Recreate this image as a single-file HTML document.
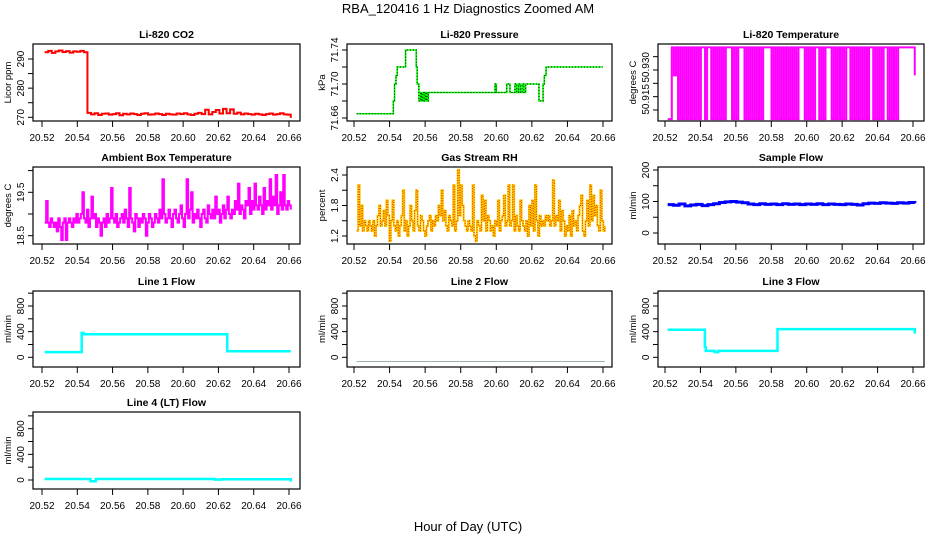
<!DOCTYPE html>
<html><head><meta charset="utf-8"><style>
html,body{margin:0;padding:0;background:#fff;}
svg{display:block;font-family:"Liberation Sans",sans-serif;}
</style></head><body>
<svg id="chart" width="936" height="540" viewBox="0 0 936 540">
<text x="468" y="13" text-anchor="middle" font-size="13">RBA_120416  1 Hz Diagnostics Zoomed AM</text>
<text x="468" y="531" text-anchor="middle" font-size="13">Hour of Day (UTC)</text>
</svg>
<script>
const xTickVals=[20.52,20.54,20.56,20.58,20.60,20.62,20.64,20.66];
const xTickLabels=["20.52","20.54","20.56","20.58","20.60","20.62","20.64","20.66"];
const tStart=20.5215, tEnd=20.661;
const co2Vals=[292.3,292.8,292.1,292.6,292.9,292.4,292.7,292.2,292.6,292.5,292.8,292.3,271.5,271.0,271.4,270.8,271.2,271.3,270.9,271.1,271.4,270.7,271.2,271.0,271.3,271.1,270.8,271.2,271.4,270.9,271.0,271.3,271.1,270.8,271.2,271.0,270.9,271.3,271.1,271.4,271.0,270.8,271.2,271.5,271.1,272.6,271.0,271.8,272.5,271.3,272.9,271.4,272.7,271.2,271.6,271.0,271.3,271.1,270.9,271.2,271.0,270.8,271.1,271.3,270.9,271.1,271.4,271.0,270.9,269.8];
const presTimes=[20.5215,20.5421,20.5428,20.5436,20.5443,20.549,20.555,20.5555,20.5565,20.5575,20.558,20.5587,20.5595,20.5603,20.561,20.5618,20.5627,20.5993,20.6,20.6059,20.6077,20.6105,20.6115,20.6125,20.6135,20.6145,20.6155,20.6165,20.6178,20.624,20.6263,20.627,20.628,20.629,20.6598];
const presVals=[71.665,71.68,71.70,71.71,71.72,71.74,71.72,71.70,71.68,71.69,71.68,71.69,71.68,71.69,71.68,71.69,71.69,71.70,71.69,71.70,71.69,71.70,71.69,71.70,71.69,71.70,71.69,71.70,71.70,71.68,71.70,71.71,71.72,71.72,71.72];
const H=50.9385, L=50.9116, M=50.928;
const tempVals=[L,L,H,M,H,L,H,L,H,L,H,L,H,L,H,L,H,H,L,H,H,L,H,L,H,L,H,L,H,H,H,L,H,L,H,H,H,L,H,L,H,L,H,L,H,L,H,H,H,H,L,H,L,H,L,H,L,H,L,H,L,H,L,H,H,H,L,H,L,H,L,H,H,L,H,L,H,H,H,L,H,L,H,L,H,L,H,H,L,H,L,H,L,H,L,H,L,H,H,L,H,L,H,L,H,H,L,H,L,H,L,H,H,H,H,H,H,H,H,M];
const ambVals=[18.8,19.3,18.8,18.7,18.9,18.8,18.7,18.8,18.6,18.9,18.7,18.4,18.8,18.9,18.4,18.8,18.9,18.8,18.7,18.9,18.8,19.0,18.8,18.9,19.0,19.5,18.9,18.8,19.1,18.7,18.9,19.4,18.9,19.0,18.7,18.9,18.8,18.5,18.8,18.9,18.7,19.0,18.8,18.9,19.6,18.9,18.8,19.0,18.7,18.8,18.9,19.0,18.8,19.1,18.9,18.7,19.6,18.9,18.8,18.6,19.0,18.9,18.7,18.9,18.8,19.0,18.9,18.5,18.8,19.0,18.9,18.7,18.8,19.0,18.9,18.8,19.1,18.9,19.8,19.0,18.8,18.9,19.1,18.9,18.7,19.0,19.1,18.9,18.8,19.0,19.2,18.9,18.7,19.0,19.8,18.9,19.1,19.5,18.8,19.0,18.9,19.1,18.9,18.7,19.0,19.1,18.9,18.8,19.2,19.0,18.9,19.1,18.9,19.4,19.0,19.1,18.8,19.0,19.2,18.9,19.1,19.4,19.0,18.9,19.1,19.0,19.3,19.1,19.7,19.0,19.2,19.1,18.9,19.3,19.2,19.6,19.0,19.3,19.1,19.7,19.2,19.1,19.4,19.2,19.0,19.6,19.1,19.3,19.2,19.8,19.1,19.4,19.2,19.9,19.0,19.2,19.5,19.1,19.9,19.2,19.1,19.3,19.2,19.1];
const rhVals=[1.3,2.2,1.4,1.8,1.3,1.5,1.4,1.3,1.5,1.4,1.3,1.5,1.2,1.4,1.6,1.8,1.4,1.5,1.7,1.4,1.9,1.6,1.1,1.5,1.9,1.4,1.3,1.5,1.2,1.4,1.6,2.1,1.3,1.5,1.2,1.4,1.8,1.5,1.3,1.7,2.1,1.4,1.3,1.6,1.5,1.3,1.2,1.4,1.5,1.6,1.3,1.5,1.4,1.6,1.5,1.8,1.6,2.1,1.5,1.7,1.4,1.3,1.6,1.5,1.4,2.2,1.3,1.5,2.5,1.6,2.2,1.8,1.5,1.4,1.3,1.5,1.4,1.3,2.2,1.2,1.1,1.5,1.4,1.3,2.0,1.5,1.9,1.3,1.6,1.5,1.3,1.4,1.2,1.5,1.4,1.9,1.3,1.5,1.6,2.0,1.4,1.5,2.2,1.4,1.5,2.2,1.3,1.6,1.4,1.3,1.9,1.5,1.4,1.3,1.5,1.2,1.8,1.4,1.9,1.3,2.2,1.5,1.2,1.6,1.4,1.5,1.4,1.6,1.5,1.6,1.4,1.5,2.3,1.4,1.6,1.5,1.9,1.3,1.7,1.5,1.2,1.4,1.3,1.6,1.2,1.7,1.4,1.5,1.3,1.6,1.8,2.0,1.3,1.2,1.5,1.9,1.4,2.2,1.5,2.0,1.6,1.8,1.4,1.3,2.1,1.5,1.3,1.4];
const sampVals=[90,88,92,86,89,91,87,90,93,97,99,100,98,96,92,90,93,91,92,90,93,91,92,90,92,91,93,90,92,91,90,92,91,89,93,95,94,96,95,94,96,95,97,94];
const l1Times=[20.5215,20.5425,20.5435,20.625,20.661];
const l1Vals=[80,380,360,95,95];
const l3Times=[20.5215,20.5425,20.543,20.548,20.550,20.5835,20.660,20.661];
const l3Vals=[430,160,100,80,100,440,440,370];
const l2Times=[20.5215,20.661];
const l2Vals=[-65,-65];
const l4Times=[20.5215,20.5475,20.5505,20.618,20.622,20.6605,20.661];
const l4Vals=[15,-20,15,5,12,12,-25];

const svg=document.getElementById('chart');
const NS='http://www.w3.org/2000/svg';
const cols=[{L:33,R:300,x0:42,x1:289},{L:347,R:612,x0:354,x1:603},{L:658,R:924,x0:665,x1:913}];
const rows=[{T:44,B:121},{T:167,B:244},{T:291,B:367},{T:412,B:489}];
function mk(tag,attrs,parent){const e=document.createElementNS(NS,tag);for(const k in attrs)e.setAttribute(k,attrs[k]);(parent||svg).appendChild(e);return e;}
function even(vals){const n=vals.length;return vals.map((v,i)=>[tStart+i*(tEnd-tStart)/(n-1),v]);}
function pairs(ts,vs){return ts.map((t,i)=>[t,vs[i]]);}
function panel(c,r,title,name,ylab,yTicks,yLabels,ref){
  const C=cols[c],R=rows[r];
  const g=mk('g',{});
  
  
  const xs=t=>C.x0+(t-20.52)/(0.14)*(C.x1-C.x0);
  const ys=v=>ref[1]+(v-ref[0])*(ref[3]-ref[1])/(ref[2]-ref[0]);
  const tt=mk('text',{x:(C.L+C.R)/2,y:R.T-6,'text-anchor':'middle','font-size':'10.5','font-weight':'bold'},g);
  tt.textContent=title;
  
  
  xTickVals.forEach((v,i)=>{const x=xs(v);
    mk('line',{x1:x,x2:x,y1:R.B,y2:R.B+6,stroke:'#000'},g);
    const t=mk('text',{x:x,y:R.B+20,'text-anchor':'middle','font-size':'10'},g);t.textContent=xTickLabels[i];
    
    });
  yTicks.forEach((v,i)=>{const y=ys(v);
    mk('line',{x1:C.L-5,x2:C.L,y1:y,y2:y,stroke:'#000'},g);
    if(yLabels[i]){const t=mk('text',{x:0,y:0,'text-anchor':'middle','font-size':'10',transform:`translate(${C.L-9},${y}) rotate(-90)`},g);t.textContent=yLabels[i];
      
      }});
  const yl=mk('text',{x:0,y:0,'text-anchor':'middle','font-size':'9.5',transform:`translate(${C.L-22},${(R.T+R.B)/2}) rotate(-90)`},g);
  yl.textContent=ylab;
  
  
  const cp=mk('clipPath',{id:'cp'+c+r},g);mk('rect',{x:C.L,y:R.T,width:C.R-C.L,height:R.B-R.T},cp);
  const pg=mk('g',{'clip-path':`url(#cp${c}${r})`},g);
  const box=mk('rect',{x:C.L,y:R.T,width:C.R-C.L,height:R.B-R.T,fill:'none',stroke:'#000','stroke-width':1.2},g);
  
  
  return {xs,ys,pg};
}
function line(p,pts,step,style,nm){
  let d='';pts.forEach(([t,v],i)=>{const x=p.xs(t),y=p.ys(v);
    if(i===0)d+=`M${x},${y}`;else if(step){d+=`H${x}V${y}`;}else d+=`L${x},${y}`;});
  const e=mk('path',Object.assign({d:d,fill:'none'},style),p.pg);
  
  
  return e;
}
let p;
p=panel(0,0,'Li-820 CO2','co2','Licor ppm',[270,275,280,285,290],['270','','280','','290'],[290,59,270,117.3]);
line(p,even(co2Vals),true,{stroke:'#ff0000','stroke-width':2},'co2-line');
p=panel(1,0,'Li-820 Pressure','pressure','kPa',[71.66,71.68,71.70,71.72,71.74],['71.66','','71.70','','71.74'],[71.74,50,71.66,118]);
line(p,pairs(presTimes,presVals),true,{stroke:'#00ff00','stroke-width':1.6},'pressure-line');
line(p,pairs(presTimes,presVals),true,{stroke:'#000','stroke-width':1,'stroke-dasharray':'1 2'},'pressure-dots');
p=panel(2,0,'Li-820 Temperature','li820-temp','degrees C',[50.935,50.930,50.925,50.920,50.915],['','','','',''],[50.915,110,50.930,70]);
['50.930','50.915'].forEach((s,i)=>{const vv=[50.931,50.919][i];const t=mk('text',{x:0,y:0,'text-anchor':'middle','font-size':'10',transform:`translate(${cols[2].L-9},${p.ys(vv)}) rotate(-90)`});t.textContent=s;
  
  });
line(p,even(tempVals),true,{stroke:'#ff00ff','stroke-width':2},'li820-temp-line');
p=panel(0,1,'Ambient Box Temperature','ambient-temp','degrees C',[18.5,19.0,19.5,20.0],['18.5','','19.5',''],[19.5,192.3,18.5,235.7]);
line(p,even(ambVals),true,{stroke:'#ff00ff','stroke-width':2},'ambient-temp-line');
p=panel(1,1,'Gas Stream RH','rh','percent',[1.2,1.5,1.8,2.1,2.4],['1.2','','1.8','','2.4'],[2.4,175,1.2,236]);
line(p,even(rhVals),true,{stroke:'#ffd000','stroke-width':2},'rh-line');
line(p,even(rhVals),true,{stroke:'#e03000','stroke-width':1,'stroke-dasharray':'1 1.5'},'rh-dots');
p=panel(2,1,'Sample Flow','sample-flow','ml/min',[0,50,100,150,200],['0','','100','','200'],[200,170,0,233]);
line(p,even(sampVals),true,{stroke:'#0000ff','stroke-width':3},'sample-flow-line');
const fT=[0,200,400,600,800,1000],fL=['0','','400','','800',''];
p=panel(0,2,'Line 1 Flow','line1-flow','ml/min',fT,fL,[0,357.3,800,306]);
line(p,pairs(l1Times,l1Vals),true,{stroke:'#00ffff','stroke-width':2.5},'line1-flow-line');
p=panel(1,2,'Line 2 Flow','line2-flow','ml/min',fT,fL,[0,357.3,800,306]);
line(p,pairs(l2Times,l2Vals),false,{stroke:'#a0b0b0','stroke-width':1},'line2-flow-line');
p=panel(2,2,'Line 3 Flow','line3-flow','ml/min',fT,fL,[0,357.3,800,306]);
line(p,pairs(l3Times,l3Vals),true,{stroke:'#00ffff','stroke-width':2.5},'line3-flow-line');
p=panel(0,3,'Line 4 (LT) Flow','line4-flow','ml/min',fT,fL,[0,480,800,428.7]);
line(p,pairs(l4Times,l4Vals),true,{stroke:'#00ffff','stroke-width':2.5},'line4-flow-line');
</script>
</body></html>
